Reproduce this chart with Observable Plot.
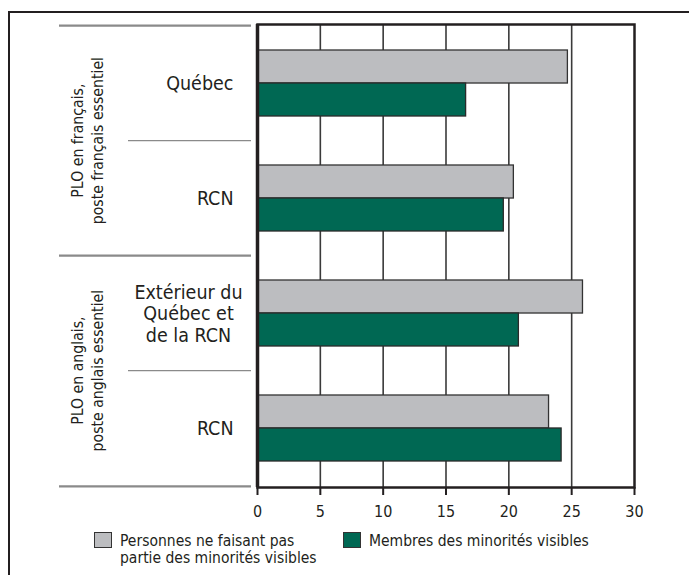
<!DOCTYPE html>
<html>
<head>
<meta charset="utf-8">
<script src="https://cdn.jsdelivr.net/npm/d3@7"></script>
<script src="https://cdn.jsdelivr.net/npm/@observablehq/plot@0.6"></script>
<style>
  html, body { margin: 0; padding: 0; background: white; }
  #wrap { position: relative; width: 689px; height: 575px; overflow: hidden; font-family: "DejaVu Sans Condensed", "Liberation Sans Narrow", sans-serif; color: #231f20; }
  #border { position: absolute; left: 8px; top: 11px; width: 900px; height: 900px; border: 2.5px solid #231f20; box-sizing: border-box; pointer-events: none; }
  #chart svg { display: block; }
  #legend { position: relative; height: 50px; font-size: 15.5px; line-height: 16.5px; }
  .sw { position: absolute; width: 18px; height: 16px; border: 1.3px solid #333; box-sizing: border-box; }
  .lt { position: absolute; white-space: nowrap; }
</style>
</head>
<body>
<div id="wrap">
  <div id="chart"></div>
  <div id="legend"></div>
  <div id="border"></div>
</div>
<script>
// ---- data ----
const groups = ["PLO en français,\nposte français essentiel", "PLO en anglais,\nposte anglais essentiel"];
const categories = ["Québec", "RCN", "Extérieur du\nQuébec et\nde la RCN", "RCN"];
const categoryGroup = [0, 0, 1, 1];
const nonVisible = [24.7, 20.4, 25.9, 23.2];
const visible = [16.6, 19.6, 20.8, 24.2];
const seriesNames = ["Personnes ne faisant pas\npartie des minorités visibles", "Membres des minorités visibles"];
const seriesColors = ["#bcbdc0", "#006853"];
const xTicks = [0, 5, 10, 15, 20, 25, 30];

// ---- build rows ----
const keys = categories.map((c, i) => "k" + i);
const rows = categories.map((c, i) => ({
  key: keys[i], label: c, group: categoryGroup[i],
  a: nonVisible[i], b: visible[i],
  multi: c.includes("\n")
}));

const W = 689, H = 525, mT = 24, mB = 38, mL = 257, mR = 55;
const step = (H - mT - mB) / keys.length;

const sepLong = rows.filter((r, i) => i === 0 || r.group !== rows[i - 1].group);
const sepShort = rows.filter((r, i) => i > 0 && r.group === rows[i - 1].group);
const lastRow = [rows[rows.length - 1]];
const groupRows = groups.map((g, gi) => {
  const idx = categoryGroup.indexOf(gi);
  return { key: keys[idx + 1], label: g };
});

const FONT = "'DejaVu Sans Condensed', 'Liberation Sans Narrow', sans-serif";
const chart = Plot.plot({
  width: W, height: H,
  marginTop: mT, marginBottom: mB, marginLeft: mL, marginRight: mR,
  style: { fontFamily: FONT, fontSize: "16px", color: "#231f20", background: "white", overflow: "visible" },
  x: { domain: [0, 30] },
  y: { type: "band", domain: keys, paddingInner: 0.43, paddingOuter: 0.215, axis: null },
  marks: [
    Plot.ruleX(xTicks.filter(t => t > 0 && t < 30), { stroke: "#3a3a3a", strokeWidth: 1.6 }),
    Plot.barX(rows, { y: "key", x: "a", fill: seriesColors[0], stroke: "#333", strokeWidth: 1.3, insetBottom: step * 0.57 / 2 }),
    Plot.barX(rows, { y: "key", x: "b", fill: seriesColors[1], stroke: "#2a2a2a", strokeWidth: 1.3, insetTop: step * 0.57 / 2 }),
    Plot.frame({ stroke: "#231f20", strokeWidth: 2.5 }),
    Plot.ruleX([0], { stroke: "#231f20", strokeWidth: 3.5 }),
    Plot.axisX(xTicks, { anchor: "bottom", tickSize: 8, tickPadding: 10, strokeWidth: 2, stroke: "#231f20", fontSize: 16, label: null }),
    // left separators
    Plot.ruleY(sepLong, { y: "key", dy: -step / 2, stroke: "#8a8a8a", strokeWidth: 2.3, insetLeft: 59 - mL, insetRight: (W - mR) - 251 }),
    Plot.ruleY(sepShort, { y: "key", dy: -step / 2, stroke: "#8a8a8a", strokeWidth: 1.4, insetLeft: 128 - mL, insetRight: (W - mR) - 251 }),
    Plot.ruleY(lastRow, { y: "key", dy: step / 2, stroke: "#8a8a8a", strokeWidth: 2.3, insetLeft: 59 - mL, insetRight: (W - mR) - 251 }),
    // category labels
    Plot.text(rows.filter(r => !r.multi), { y: "key", text: "label", frameAnchor: "left", dx: 233 - mL, textAnchor: "end", fontSize: 19.5 }),
    Plot.text(rows.filter(r => r.multi), { y: "key", text: "label", frameAnchor: "left", dx: 188 - mL, textAnchor: "middle", fontSize: 19.5, lineHeight: 1.11 }),
    // group labels
    Plot.text(groupRows, { y: "key", dy: -step / 2, text: "label", frameAnchor: "left", dx: 86 - mL, rotate: -90, textAnchor: "middle", fontSize: 15.7, lineHeight: 1.27 })
  ]
});
document.getElementById("chart").appendChild(chart);

// ---- legend (HTML, below the SVG) ----
const legend = document.getElementById("legend");
const legendPos = [{ sx: 94, tx: 120 }, { sx: 343, tx: 369 }];
seriesNames.forEach((name, i) => {
  const sw = document.createElement("div");
  sw.className = "sw";
  sw.style.left = legendPos[i].sx + "px";
  sw.style.top = "7px";
  sw.style.background = seriesColors[i];
  legend.appendChild(sw);
  const t = document.createElement("div");
  t.className = "lt";
  t.style.left = legendPos[i].tx + "px";
  t.style.top = "8px";
  t.innerHTML = name.split("\n").join("<br>");
  legend.appendChild(t);
});
</script>
</body>
</html>
